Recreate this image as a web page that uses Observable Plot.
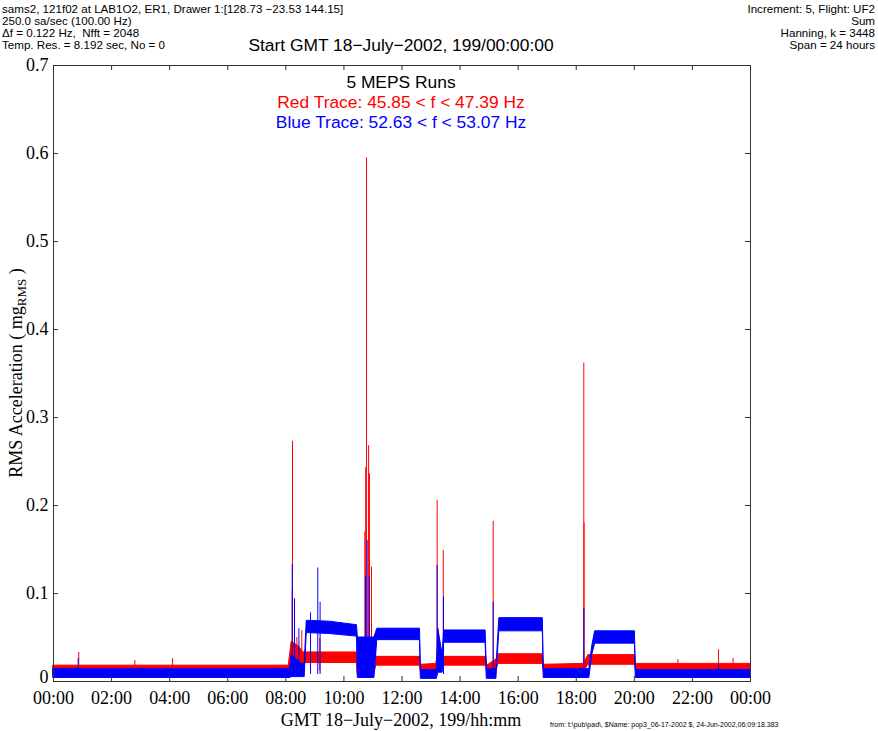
<!DOCTYPE html>
<html>
<head>
<meta charset="utf-8">
<script src="https://cdn.jsdelivr.net/npm/d3@7"></script>
<script src="https://cdn.jsdelivr.net/npm/@observablehq/plot@0.6"></script>
<style>
  html, body { margin: 0; padding: 0; background: #fff; }
  #wrap { position: relative; width: 878px; height: 731px; overflow: hidden; }
  .t { position: absolute; white-space: nowrap; font-family: "Liberation Sans", Arial, sans-serif; color: #000; }
  .hdr { font-size: 11.6px; line-height: 12px; }
  .serif { font-family: "Liberation Serif", "Times New Roman", serif; }
</style>
</head>
<body>
<div id="wrap">
  <div class="t hdr" style="left:2px; top:3px;">sams2, 121f02 at LAB1O2, ER1, Drawer 1:[128.73 −23.53 144.15]<br>250.0 sa/sec (100.00 Hz)<br>Δf = 0.122 Hz,&nbsp; Nfft = 2048<br>Temp. Res. = 8.192 sec, No = 0</div>
  <div class="t hdr" style="right:3px; top:3px; text-align:right;">Increment: 5, Flight: UF2<br>Sum<br>Hanning, k = 3448<br>Span = 24 hours</div>
  <div class="t" style="left:401px; top:35px; transform:translateX(-50%); font-size:17.4px;">Start GMT 18−July−2002, 199/00:00:00</div>
  <div class="t" style="left:401px; top:72px; transform:translateX(-50%); font-size:17.4px; text-align:center; line-height:20px;">5 MEPS Runs<br><span style="color:#ff0000">Red Trace: 45.85 &lt; f &lt; 47.39 Hz</span><br><span style="color:#0000ff">Blue Trace: 52.63 &lt; f &lt; 53.07 Hz</span></div>
  <div class="t serif" style="left:401px; top:711px; transform:translateX(-50%); font-size:18px; line-height:18px;">GMT 18−July−2002, 199/hh:mm</div>
  <div class="t serif" style="left:18px; top:373px; transform:translate(-50%,-50%) rotate(-90deg); font-size:18px;">RMS Acceleration ( mg<sub style="font-size:13px">RMS</sub> )</div>
  <div class="t" style="left:550px; top:721px; font-size:7px;">from: t:\pub\pad\, $Name: pop3_06-17-2002 $, 24-Jun-2002,06:09:18.383</div>
  <div id="chart" style="position:absolute; left:0; top:0;"></div>
</div>
<script>
// ---- data (hours GMT, acceleration in mg RMS) ----
const xTicks = [0, 2, 4, 6, 8, 10, 12, 14, 16, 18, 20, 22, 24];
const xTickLabels = ["00:00","02:00","04:00","06:00","08:00","10:00","12:00","14:00","16:00","18:00","20:00","22:00","00:00"];
const yTicks = [0, 0.1, 0.2, 0.3, 0.4, 0.5, 0.6, 0.7];
const yTickLabels = ["0","0.1","0.2","0.3","0.4","0.5","0.6","0.7"];

// red trace envelope (lower / upper edge of the noise band)
const redT  = [0.00, 8.10, 8.20, 8.45, 8.60, 10.45, 10.47, 11.05, 11.12, 12.62, 12.65, 13.18, 13.25, 13.45, 14.90, 14.93, 15.25, 15.32, 16.85, 16.88, 18.25, 18.42, 20.03, 20.06, 24.00];
const redLo = [0.009, 0.009, 0.010, 0.012, 0.021, 0.021, 0.008, 0.010, 0.018, 0.018, 0.010, 0.010, 0.015, 0.018, 0.018, 0.008, 0.012, 0.020, 0.020, 0.010, 0.010, 0.019, 0.019, 0.010, 0.010];
const redHi = [0.018, 0.018, 0.045, 0.040, 0.033, 0.033, 0.030, 0.035, 0.028, 0.028, 0.019, 0.020, 0.035, 0.028, 0.028, 0.018, 0.025, 0.031, 0.031, 0.019, 0.020, 0.030, 0.030, 0.020, 0.020];

// blue trace envelope
const blueT  = [0.00, 8.15, 8.20, 8.55, 8.65, 8.72, 9.50, 10.45, 10.48, 11.05, 11.15, 12.62, 12.65, 13.20, 13.25, 13.40, 13.45, 14.88, 14.92, 15.25, 15.35, 16.85, 16.88, 18.45, 18.55, 18.65, 20.02, 20.05, 24.00];
const blueLo = [0.004, 0.004, 0.005, 0.005, 0.005, 0.055, 0.054, 0.051, 0.004, 0.004, 0.047, 0.047, 0.003, 0.003, 0.010, 0.010, 0.044, 0.044, 0.003, 0.003, 0.057, 0.057, 0.004, 0.004, 0.030, 0.043, 0.043, 0.004, 0.004];
const blueHi = [0.014, 0.014, 0.030, 0.020, 0.020, 0.069, 0.068, 0.064, 0.050, 0.050, 0.060, 0.060, 0.013, 0.013, 0.060, 0.030, 0.058, 0.058, 0.014, 0.014, 0.072, 0.072, 0.014, 0.014, 0.040, 0.057, 0.057, 0.013, 0.013];

// spikes: time and peak value
const redSpikeT = [0.87, 8.22, 8.23, 8.38, 8.55, 9.17, 10.72, 10.75, 10.78, 10.85, 10.88, 10.95, 13.21, 13.42, 15.14, 18.26, 18.27, 22.90, 2.80, 4.10, 21.50, 23.40];
const redSpikeV = [0.033, 0.104, 0.273, 0.050, 0.058, 0.049, 0.170, 0.243, 0.595, 0.268, 0.236, 0.130, 0.206, 0.149, 0.182, 0.362, 0.180, 0.036, 0.024, 0.026, 0.025, 0.026];
const blueSpikeT = [0.85, 8.22, 8.30, 8.45, 8.85, 9.10, 9.18, 10.75, 10.80, 10.88, 13.21, 13.43, 15.14, 18.26, 22.90];
const blueSpikeV = [0.026, 0.133, 0.094, 0.060, 0.078, 0.129, 0.090, 0.120, 0.160, 0.120, 0.132, 0.096, 0.090, 0.083, 0.020];

// ---- build tables ----
const redBand = redT.map((t, i) => ({t, lo: redLo[i], hi: redHi[i]}));
const blueBand = blueT.map((t, i) => ({t, lo: blueLo[i], hi: blueHi[i]}));
const redSpikes = redSpikeT.map((t, i) => ({t, v: redSpikeV[i]}));
const blueSpikes = blueSpikeT.map((t, i) => ({t, v: blueSpikeV[i]}));
const RED = "#ff0000", BLUE = "#0000ff";
const tk = 0.7 * 5 / 616;   // tick length in data units (y)
const tkx = 24 * 5 / 697;   // tick length in data units (x)
const yFmt = d => yTickLabels[yTicks.indexOf(d)];

const chart = Plot.plot({
  width: 878,
  height: 731,
  marginLeft: 53,
  marginRight: 128,
  marginTop: 65,
  marginBottom: 50,
  style: {fontFamily: "'Liberation Serif', 'Times New Roman', serif", fontSize: "18px", color: "#000", background: "transparent"},
  x: {domain: [0, 24]},
  y: {domain: [0, 0.7]},
  marks: [
    Plot.areaY(redBand, {x: "t", y1: "lo", y2: "hi", fill: RED, stroke: RED, strokeWidth: 1}),
    Plot.ruleX(redSpikes, {x: "t", y1: 0.012, y2: "v", stroke: RED, strokeWidth: 1}),
    Plot.areaY(blueBand, {x: "t", y1: "lo", y2: "hi", fill: BLUE, stroke: BLUE, strokeWidth: 1}),
    Plot.ruleX(blueSpikes, {x: "t", y1: 0.008, y2: "v", stroke: BLUE, strokeWidth: 1}),
    // inward ticks on all four sides
    Plot.ruleX(xTicks, {x: d => d, y1: 0, y2: tk, stroke: "#333"}),
    Plot.ruleX(xTicks, {x: d => d, y1: 0.7 - tk, y2: 0.7, stroke: "#333"}),
    Plot.ruleY(yTicks, {y: d => d, x1: 0, x2: tkx, stroke: "#333"}),
    Plot.ruleY(yTicks, {y: d => d, x1: 24 - tkx, x2: 24, stroke: "#333"}),
    Plot.axisX(xTicks, {tickSize: 0, tickPadding: 10, tickFormat: d => xTickLabels[xTicks.indexOf(d)], label: null, fontSize: 18}),
    Plot.axisY(yTicks.filter(d => d !== 0), {tickSize: 0, tickPadding: 5, tickFormat: yFmt, label: null, fontSize: 18}),
    Plot.axisY(yTicks.filter(d => d === 0), {tickSize: 0, tickPadding: 5, tickFormat: yFmt, label: null, fontSize: 18, dy: -4}),
    Plot.frame({stroke: "#333", strokeWidth: 1})
  ]
});
document.getElementById("chart").appendChild(chart);
</script>
</body>
</html>
